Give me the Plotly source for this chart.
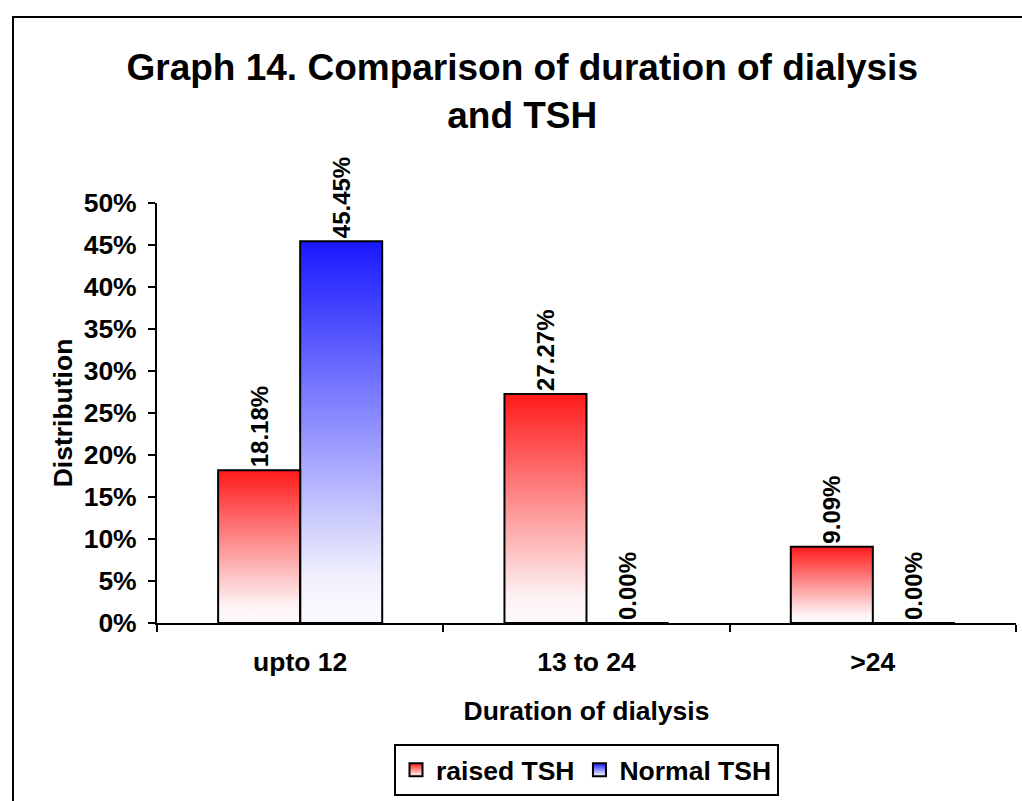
import plotly.graph_objects as go

# ---- data ----
categories = ["upto 12", "13 to 24", ">24"]
raised_tsh = [0.1818, 0.2727, 0.0909]
normal_tsh = [0.4545, 0.0, 0.0]
series_names = ["raised TSH", "Normal TSH"]

# ---- styles ----
FONT = "Arial, Liberation Sans, sans-serif"
FS = 26.5
BAR_W = 0.2865
RED_TOP = "#ff1a1a"
BLUE_TOP = "#1818ff"
red_scale = [[0, "#fefbfc"], [0.12, "#fdf1f2"], [1, RED_TOP]]
blue_scale = [[0, "#fbfbff"], [0.12, "#f1f1fe"], [1, BLUE_TOP]]

fig = go.Figure()

# legend-only swatches with vertical gradient
for name, col in zip(series_names, [RED_TOP, BLUE_TOP]):
    fig.add_trace(go.Scatter(
        x=[None], y=[None], mode="markers", name=name,
        marker=dict(symbol="square", size=13, color=col,
                    gradient=dict(type="vertical", color="white"),
                    line=dict(color="black", width=2)),
        xaxis="x", yaxis="y", hoverinfo="skip"))

# gradient fills (on base numeric axis), computed from data
for vals, offset, scale in [(raised_tsh, -BAR_W, red_scale), (normal_tsh, 0.0, blue_scale)]:
    for i, v in enumerate(vals):
        if v <= 0:
            continue
        x0 = i + offset
        x1 = x0 + BAR_W
        fig.add_trace(go.Scatter(
            x=[x0, x0, x1, x1, x0], y=[0, v, v, 0, 0],
            mode="lines", fill="toself", line=dict(width=0, color="rgba(0,0,0,0)"),
            fillgradient=dict(type="vertical", colorscale=scale),
            showlegend=False, hoverinfo="skip", xaxis="x", yaxis="y"))

# bar outlines and labels (on category axis)
for name, vals, offset in [(series_names[0], raised_tsh, -BAR_W), (series_names[1], normal_tsh, 0.0)]:
    fig.add_trace(go.Bar(
        x=categories, y=vals, name=name, width=BAR_W, offset=offset,
        marker=dict(color="rgba(0,0,0,0)", line=dict(color="black", width=2)),
        texttemplate="%{y:.2%}", textposition="outside", textangle=-90,
        textfont=dict(family=FONT, size=24, color="black", weight="bold"),
        constraintext="none", cliponaxis=False, showlegend=False,
        xaxis="x2", yaxis="y"))

fig.update_layout(
    width=1022, height=801,
    margin=dict(l=157, r=6, t=203, b=178, autoexpand=False),
    paper_bgcolor="white", plot_bgcolor="white",
    font=dict(family=FONT, color="black"),
    title=dict(text="Graph 14. Comparison of duration of dialysis<br>and TSH",
               x=0.511, xanchor="center", y=0.900, yanchor="top",
               font=dict(family=FONT, size=37, color="black", weight="bold")),
    barmode="overlay",
    showlegend=True,
    legend=dict(orientation="h", x=0.5, xanchor="center", y=-0.412, yanchor="bottom",
                bordercolor="black", borderwidth=2, bgcolor="white",
                font=dict(family=FONT, size=FS, color="black", weight="bold"),
                itemwidth=30, traceorder="normal"),
    xaxis=dict(type="linear", range=[-0.5, 2.5], visible=False, fixedrange=True),
    xaxis2=dict(type="category", overlaying="x", side="bottom", range=[-0.5, 2.5],
                showline=True, linecolor="black", linewidth=2, mirror=False,
                ticks="outside", tickson="boundaries", ticklen=7, tickwidth=2, tickcolor="black",
                showgrid=False, zeroline=False,
                tickfont=dict(family=FONT, size=FS, color="black", weight="bold"),
                ticklabelstandoff=14,
                title=dict(text="Duration of dialysis", standoff=26,
                           font=dict(family=FONT, size=FS, color="black", weight="bold"))),
    yaxis=dict(range=[0, 0.5], dtick=0.05, tickformat=".0%",
               showline=True, linecolor="black", linewidth=2,
               ticks="outside", ticklen=7, tickwidth=2, tickcolor="black",
               showgrid=False, zeroline=False, ticklabelstandoff=6,
               tickfont=dict(family=FONT, size=FS, color="black", weight="bold"),
               title=dict(text="Distribution", standoff=3,
                          font=dict(family=FONT, size=FS, color="black", weight="bold"))),
    shapes=[dict(type="rect", xref="paper", yref="paper",
                 x0=(13 - 157) / 859, x1=1.2, y0=-0.6, y1=(623 - 17) / 420,
                 line=dict(color="black", width=2), fillcolor="rgba(0,0,0,0)", layer="below")],
)

fig.write_html("out.html")
